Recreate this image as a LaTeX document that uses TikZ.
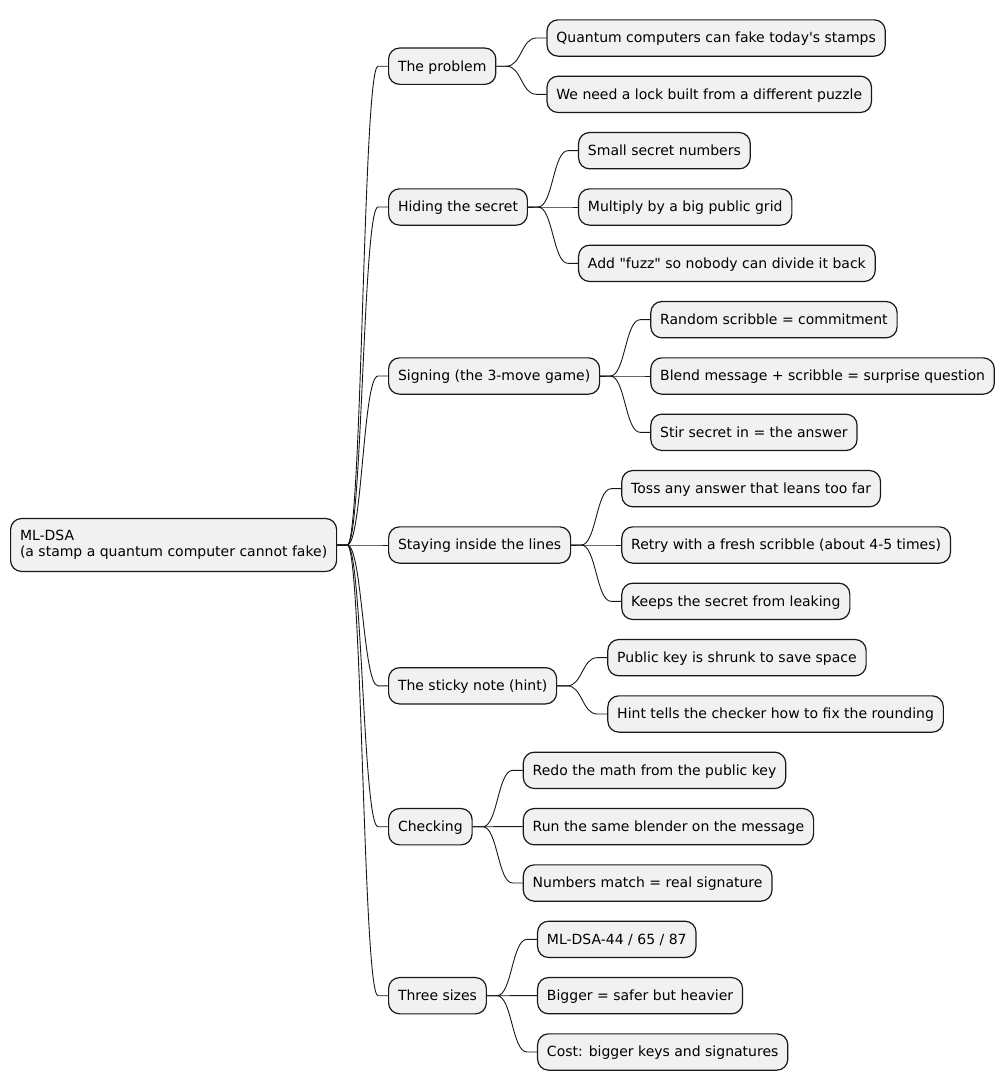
\documentclass[tikz,border=0pt]{standalone}
\usepackage{fontspec}
\setmainfont{DejaVu Sans}[Ligatures=TeXOff]
\definecolor{nodefill}{HTML}{F1F1F1}
\definecolor{nodeline}{HTML}{181818}
\tikzset{
  mmbox/.style={draw=nodeline, fill=nodefill, line width=1.2pt, rounded corners=11pt,
    inner xsep=9.4pt, inner ysep=10pt, text height=13pt, text depth=3.3pt,
    anchor=west, font=\fontsize{14pt}{16.3pt}\selectfont},
  rootbox/.style={draw=nodeline, fill=nodefill, line width=1.2pt, rounded corners=11pt,
    inner xsep=9.4pt, inner ysep=10pt, minimum height=53pt, align=left,
    anchor=west, font=\fontsize{14pt}{16.3pt}\selectfont},
  child/.style={mmbox, xshift=50pt},
  link/.style={draw=nodeline, line width=0.9pt}
}
\newcommand{\mmlink}[2]{%
  \draw[link] (#1.east) -- ++(10pt,0) .. controls +(15pt,0) and ([xshift=-25pt]#2.west) .. ([xshift=-10pt]#2.west) -- (#2.west);}
\begin{document}
\begin{tikzpicture}[x=1pt,y=-1pt]
\useasboundingbox (0,0) rectangle (1005,1090);

\node[rootbox] (root) at (10,545) {ML-DSA\\(a stamp a quantum computer cannot fake)};

\node[mmbox] (p1) at (388,66.2) {The problem};
\node[mmbox] (p2) at (388,207) {Hiding the secret};
\node[mmbox] (p3) at (388,376) {Signing (the 3-move game)};
\node[mmbox] (p4) at (388,545) {Staying inside the lines};
\node[mmbox] (p5) at (388,685.8) {The sticky note (hint)};
\node[mmbox] (p6) at (388,826.7) {Checking};
\node[mmbox] (p7) at (388,995.7) {Three sizes};

\node[child] (c0) at (p1.east |- 0,38) {Quantum computers can fake today's stamps};
\node[child] (c1) at (p1.east |- 0,94.33) {We need a lock built from a different puzzle};
\node[child] (c2) at (p2.east |- 0,150.67) {Small secret numbers};
\node[child] (c3) at (p2.east |- 0,207) {Multiply by a big public grid};
\node[child] (c4) at (p2.east |- 0,263.33) {Add "fuzz" so nobody can divide it back};
\node[child] (c5) at (p3.east |- 0,319.67) {Random scribble = commitment};
\node[child] (c6) at (p3.east |- 0,376) {Blend message + scribble = surprise question};
\node[child] (c7) at (p3.east |- 0,432.33) {Stir secret in = the answer};
\node[child] (c8) at (p4.east |- 0,488.67) {Toss any answer that leans too far};
\node[child] (c9) at (p4.east |- 0,545) {Retry with a fresh scribble (about 4-5 times)};
\node[child] (c10) at (p4.east |- 0,601.33) {Keeps the secret from leaking};
\node[child] (c11) at (p5.east |- 0,657.67) {Public key is shrunk to save space};
\node[child] (c12) at (p5.east |- 0,714) {Hint tells the checker how to fix the rounding};
\node[child] (c13) at (p6.east |- 0,770.33) {Redo the math from the public key};
\node[child] (c14) at (p6.east |- 0,826.67) {Run the same blender on the message};
\node[child] (c15) at (p6.east |- 0,883) {Numbers match = real signature};
\node[child] (c16) at (p7.east |- 0,939.33) {ML-DSA-44 / 65 / 87};
\node[child] (c17) at (p7.east |- 0,995.67) {Bigger = safer but heavier};
\node[child] (c18) at (p7.east |- 0,1052) {Cost: bigger keys and signatures};

\foreach \p in {p1,p2,p3,p4,p5,p6,p7} {\mmlink{root}{\p}}
\mmlink{p1}{c0}\mmlink{p1}{c1}
\mmlink{p2}{c2}\mmlink{p2}{c3}\mmlink{p2}{c4}
\mmlink{p3}{c5}\mmlink{p3}{c6}\mmlink{p3}{c7}
\mmlink{p4}{c8}\mmlink{p4}{c9}\mmlink{p4}{c10}
\mmlink{p5}{c11}\mmlink{p5}{c12}
\mmlink{p6}{c13}\mmlink{p6}{c14}\mmlink{p6}{c15}
\mmlink{p7}{c16}\mmlink{p7}{c17}\mmlink{p7}{c18}
\end{tikzpicture}
\end{document}
